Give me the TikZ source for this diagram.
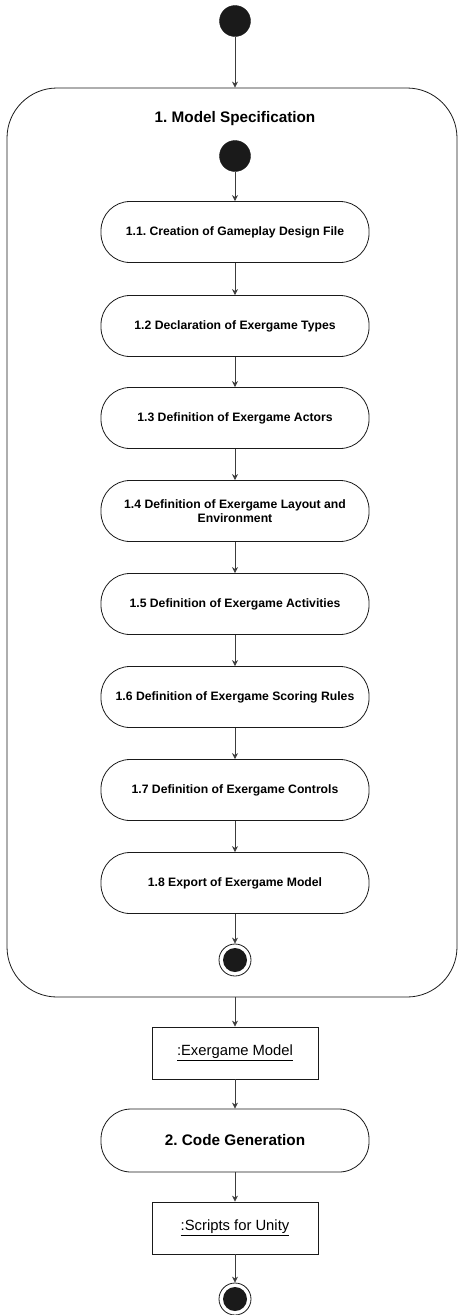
\documentclass[tikz,border=0pt]{standalone}
\usepackage{fontspec}
\setmainfont{Liberation Sans}
\usetikzlibrary{arrows.meta}
\definecolor{ink}{HTML}{1A1A1A}
\tikzset{
  flow/.style={draw=ink!85, line width=0.8pt, -{Stealth[length=6pt,width=6pt]}},
  act/.style={draw=ink, line width=0.8pt, rounded corners=29pt, minimum width=268pt, minimum height=61pt, align=center, font=\fontsize{12.2}{14.5}\selectfont\bfseries, inner sep=0pt},
  obj/.style={draw=ink, line width=0.8pt, minimum width=166pt, minimum height=52pt, font=\fontsize{14.8}{17}\selectfont, inner sep=0pt},
  startnode/.style={circle, fill=ink, draw=ink, minimum size=31pt, inner sep=0pt},
  endouter/.style={circle, draw=ink, line width=0.8pt, fill=white, minimum size=32pt, inner sep=0pt},
  endinner/.style={circle, fill=ink, minimum size=24pt, inner sep=0pt},
}
\frenchspacing
\begin{document}
\begin{tikzpicture}[x=1pt,y=-1pt]
\useasboundingbox (0,0) rectangle (462,1315);
\node[draw=ink, line width=0.8pt, rounded corners=50pt, minimum width=450pt, minimum height=909pt, inner sep=0pt] (cont) at (232,542.5) {};
\node[font=\fontsize{15.3}{17}\selectfont\bfseries] (title) at (235,119) {1. Model Specification};
\node[startnode] (s0) at (235,21) {};
\node[startnode] (s1) at (235,156) {};
\node[act] (a1) at (235,232) {1.1. Creation of Gameplay Design File};
\node[act] (a2) at (235,326) {1.2 Declaration of Exergame Types};
\node[act] (a3) at (235,418) {1.3 Definition of Exergame Actors};
\node[act] (a4) at (235,511) {1.4 Definition of Exergame Layout and\\Environment};
\node[act] (a5) at (235,604) {1.5 Definition of Exergame Activities};
\node[act] (a6) at (235,697) {1.6 Definition of Exergame Scoring Rules};
\node[act] (a7) at (235,790) {1.7 Definition of Exergame Controls};
\node[act] (a8) at (235,883) {1.8 Export of Exergame Model};
\node[endouter] (e1) at (235,960) {};
\node[endinner] (e1i) at (235,960) {};
\node[obj] (m) at (235,1053) {\underline{:Exergame Model}};
\node[act, rounded corners=30pt, minimum height=63pt, font=\fontsize{15.3}{17}\selectfont\bfseries] (cg) at (235,1140.5) {2. Code Generation};
\node[obj] (su) at (235,1228) {\underline{:Scripts for Unity}};
\node[endouter] (e2) at (235,1299) {};
\node[endinner] (e2i) at (235,1299) {};
\draw[flow] (s0) -- (s0 |- cont.north);
\draw[flow] (s1) -- (a1);
\draw[flow] (a1) -- (a2);
\draw[flow] (a2) -- (a3);
\draw[flow] (a3) -- (a4);
\draw[flow] (a4) -- (a5);
\draw[flow] (a5) -- (a6);
\draw[flow] (a6) -- (a7);
\draw[flow] (a7) -- (a8);
\draw[flow] (a8) -- (e1);
\draw[flow] (e1 |- cont.south) -- (m);
\draw[flow] (m) -- (cg);
\draw[flow] (cg) -- (su);
\draw[flow] (su) -- (e2);
\end{tikzpicture}
\end{document}
